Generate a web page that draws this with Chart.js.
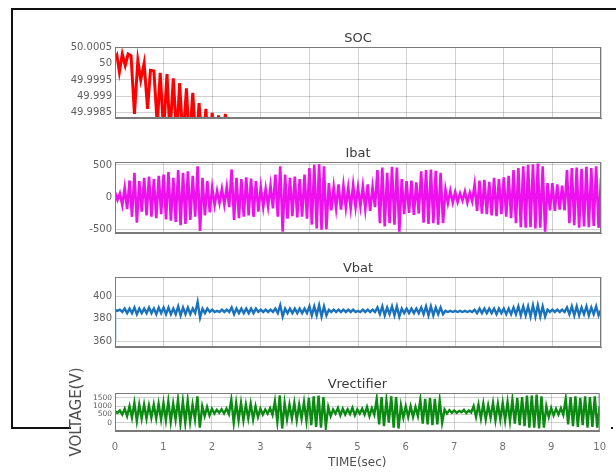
<!DOCTYPE html>
<html>
<head>
<meta charset="utf-8">
<script src="https://cdn.jsdelivr.net/npm/chart.js@4.4.0/dist/chart.umd.min.js"></script>
<style>
  body { margin: 0; background: #fff; width: 616px; height: 472px; overflow: hidden; position: relative; }
  canvas { position: absolute; left: 0; }
  .frame { position: absolute; background: #111; }
</style>
</head>
<body>
<div class="frame" style="left:11px;top:8px;width:605px;height:2px"></div>
<div class="frame" style="left:11px;top:8px;width:2px;height:421px"></div>
<div class="frame" style="left:11px;top:427px;width:60px;height:2px"></div>
<div class="frame" style="left:611px;top:427px;width:2px;height:2px"></div>

<canvas id="socChart" width="616" height="140" style="top:0"></canvas>
<canvas id="ibatChart" width="616" height="115" style="top:140px"></canvas>
<canvas id="vbatChart" width="616" height="101" style="top:255px"></canvas>
<canvas id="vrectChart" width="616" height="116" style="top:356px"></canvas>

<script>
// ---- data ----
const timeTicks = [0, 1, 2, 3, 4, 5, 6, 7, 8, 9, 10];
const socTicks = [49.9985, 49.999, 49.9995, 50, 50.0005];
const ibatTicks = [-500, 0, 500];
const vbatTicks = [360, 380, 400];
const vrectTicks = [0, 500, 1000, 1500];

// SOC only visible for the first ~2.3 s, then it drops below the axis
const socTime = [0, 0.04, 0.09, 0.15, 0.21, 0.27, 0.33, 0.4, 0.47, 0.53, 0.6, 0.67, 0.73,
  0.8, 0.87, 0.93, 1.0, 1.07, 1.13, 1.2, 1.27, 1.33, 1.4, 1.47, 1.53, 1.6, 1.67, 1.73,
  1.8, 1.87, 1.93, 2.0, 2.07, 2.13, 2.2, 2.27, 2.33];
const socValue = [50.00012, 50.00025, 49.99975, 50.0003, 49.99995, 50.0003, 50.00025, 49.99845,
  50.0001, 49.9995, 50.00002, 49.9986, 49.9998, 49.99978, 49.9981, 49.99972, 49.9979, 49.99968,
  49.9978, 49.99955, 49.9977, 49.9994, 49.9976, 49.99924, 49.9975, 49.9991, 49.9974, 49.99878,
  49.9973, 49.9986, 49.9972, 49.99848, 49.9971, 49.9984, 49.997, 49.99845, 49.9969];

// Ibat / Vbat / Vrectifier: one sample every 0.05 s, one row per second
const sampleStep = 0.05;
const ibatValue = [
  80, -40, 60, -120, 150, -180, 260, -300, 380, -390, 250, -220, 300, -280, 320, -300, 280, -320, 330, -260,
  350, -340, 390, -360, 300, -380, 420, -430, 380, -410, 400, -350, 330, -300, 480, -520, 300, -280, 250, -230,
  150, -120, 100, -90, 130, -110, 160, -150, 430, -350, 300, -320, 280, -300, 310, -280, 290, -300, 250, -220,
  160, -150, 130, -140, 180, -170, 350, -300, 480, -530, 350, -330, 300, -290, 320, -310, 280, -300, 350, -330,
  450, -420, 500, -480, 510, -500, 480, -490, 220, -200, 160, -170, 200, -190, 180, -160, 150, -170, 190, -150,
  150, -140, 170, -180, 200, -210, 160, -150, 420, -400, 460, -450, 380, -400, 470, -420, 460, -530, 280, -260,
  250, -240, 260, -270, 230, -250, 400, -390, 420, -410, 430, -400, 410, -420, 380, -400, 120, -90, 100, -80,
  80, -70, 60, -50, 90, -80, 70, -60, 200, -210, 260, -250, 270, -260, 240, -280, 300, -290, 280, -260,
  310, -300, 330, -320, 420, -400, 450, -460, 480, -470, 500, -460, 510, -480, 520, -470, 480, -530, 220, -200,
  220, -210, 200, -190, 180, -200, 420, -400, 450, -430, 460, -470, 440, -450, 470, -460, 450, -440, 480, -470,
  300];

const vbatStart = 360;
const vbatValue = [
  388, 387, 388, 386, 389, 385, 389, 385, 390, 384, 389, 385, 389, 385, 390, 385, 389, 384, 390, 385,
  390, 384, 390, 384, 389, 384, 391, 383, 390, 384, 390, 384, 389, 385, 395, 381, 389, 385, 389, 386,
  388, 386, 387, 386, 388, 386, 388, 386, 390, 384, 389, 385, 389, 385, 389, 385, 389, 385, 389, 386,
  388, 386, 388, 386, 388, 386, 389, 385, 392, 382, 389, 385, 389, 385, 389, 385, 389, 385, 389, 385,
  391, 383, 391, 383, 392, 382, 391, 383, 388, 386, 388, 386, 388, 386, 388, 386, 388, 386, 388, 386,
  387, 386, 388, 386, 388, 386, 388, 386, 390, 384, 391, 383, 390, 384, 391, 383, 391, 382, 389, 385,
  389, 385, 389, 385, 389, 385, 390, 384, 391, 383, 391, 383, 390, 384, 390, 384, 387, 386, 387, 386,
  387, 386, 387, 386, 387, 386, 387, 386, 388, 385, 389, 385, 389, 385, 389, 385, 389, 384, 389, 385,
  389, 384, 389, 384, 390, 384, 391, 383, 391, 383, 391, 382, 392, 382, 392, 382, 391, 382, 388, 386,
  388, 386, 388, 386, 388, 386, 390, 384, 391, 383, 391, 383, 390, 384, 391, 383, 390, 384, 391, 383,
  388];

const vrectValue = [
  700, 600, 750, 500, 850, 400, 1000, 300, 1200, 100, 1100, 250, 1100, 250, 1050, 300, 1100, 250, 1150, 200,
  1200, 150, 1300, 50, 1150, 200, 1400, -50, 1300, 0, 1350, 50, 1100, 200, 1600, -300, 1000, 400, 950, 450,
  850, 550, 780, 600, 820, 560, 860, 520, 1400, 0, 1200, 150, 1200, 150, 1100, 250, 1150, 200, 1000, 350,
  850, 500, 800, 550, 880, 480, 1300, 50, 1650, -350, 1200, 200, 1100, 250, 1200, 150, 1100, 250, 1250, 100,
  1500, -150, 1600, -250, 1650, -300, 1550, -250, 950, 400, 800, 550, 900, 450, 850, 500, 820, 530, 900, 450,
  800, 550, 850, 500, 950, 400, 880, 480, 1450, -100, 1550, -200, 1350, 0, 1600, -300, 1550, -350, 1050, 300,
  1000, 350, 1000, 350, 950, 400, 1400, -50, 1450, -100, 1500, -150, 1450, -100, 1350, 0, 800, 550, 760, 600,
  750, 600, 720, 640, 780, 580, 740, 620, 1000, 350, 1100, 250, 1150, 200, 1050, 300, 1200, 150, 1150, 200,
  1200, 150, 1250, 100, 1400, -50, 1500, -150, 1550, -200, 1650, -300, 1650, -300, 1700, -350, 1600, -300, 1000, 350,
  900, 450, 850, 500, 880, 480, 1450, -100, 1550, -200, 1600, -250, 1500, -150, 1600, -300, 1550, -250, 1600, -300,
  1000];

// ---- helpers ----
const boxColor = '#7a7a7a';
const gridColor = 'rgba(0,0,0,0.18)';
const tickFont = { family: '"DejaVu Sans", sans-serif', size: 10 };

const sampled = values => values.map((v, i) => ({ x: i * sampleStep, y: v }));
const paired = (times, values) => values.map((v, i) => ({ x: times[i], y: v }));
const fixTicks = list => scale => { scale.ticks = list.map(v => ({ value: v })); };

// panel title + full box around the axes (like MATLAB "box on")
const panelDecor = {
  id: 'panelDecor',
  afterDraw(chart, args, opts) {
    const { ctx, chartArea: a } = chart;
    ctx.save();
    ctx.strokeStyle = boxColor;
    ctx.lineWidth = 1;
    ctx.strokeRect(a.left + 0.5, a.top + 0.5, a.right - a.left - 1, a.bottom - a.top - 1);
    ctx.font = '13px "DejaVu Sans", sans-serif';
    ctx.fillStyle = '#3a3a3a';
    ctx.textAlign = 'center';
    ctx.textBaseline = 'alphabetic';
    ctx.fillText(opts.text, (a.left + a.right) / 2, a.top - 5);
    ctx.restore();
  }
};

function makePanel(id, cfg) {
  const bottomAxis = !!cfg.showTime;
  new Chart(document.getElementById(id), {
    type: 'line',
    data: {
      datasets: [{
        data: cfg.points,
        borderColor: cfg.color,
        borderWidth: cfg.width,
        pointRadius: 0,
        tension: 0,
        fill: false
      }]
    },
    options: {
      responsive: false,
      animation: false,
      layout: { padding: { left: 60, right: 15, top: cfg.padTop, bottom: cfg.padBottom } },
      plugins: {
        legend: { display: false },
        tooltip: { enabled: false },
        panelDecor: { text: cfg.title }
      },
      scales: {
        x: {
          type: 'linear',
          min: 0,
          max: 10,
          afterBuildTicks: fixTicks(timeTicks),
          afterFit: s => { s.height = bottomAxis ? 41 : 0; },
          grid: { color: gridColor, drawTicks: false },
          border: { color: boxColor },
          ticks: { display: bottomAxis, color: '#707070', font: tickFont, padding: 10, maxRotation: 0 },
          title: {
            display: bottomAxis,
            text: 'TIME(sec)',
            color: '#505050',
            font: { family: '"DejaVu Sans", sans-serif', size: 12 },
            padding: { top: 0, bottom: 2 }
          }
        },
        y: {
          min: cfg.yMin,
          max: cfg.yMax,
          afterBuildTicks: fixTicks(cfg.ticks),
          afterFit: s => { s.width = 55; },
          grid: { color: gridColor, drawTicks: false },
          border: { color: boxColor },
          ticks: {
            color: '#606060',
            font: cfg.yFont || tickFont,
            padding: 3,
            autoSkip: false,
            callback: v => String(+v.toFixed(4))
          },
          title: {
            display: !!cfg.yTitle,
            text: cfg.yTitle || '',
            color: '#505050',
            font: { family: '"DejaVu Sans", sans-serif', size: 15 },
            padding: { top: 8, bottom: 0 }
          }
        }
      }
    },
    plugins: [panelDecor]
  });
}

makePanel('socChart', {
  title: 'SOC', points: paired(socTime, socValue), color: '#ff0000', width: 3,
  yMin: 49.99832, yMax: 50.00052, ticks: socTicks, padTop: 47, padBottom: 22
});
makePanel('ibatChart', {
  title: 'Ibat', points: sampled(ibatValue), color: '#ee11ee', width: 2.6,
  yMin: -550, yMax: 545, ticks: ibatTicks, padTop: 22, padBottom: 22
});
makePanel('vbatChart', {
  title: 'Vbat', points: [{ x: 0, y: vbatStart }].concat(sampled(vbatValue)), color: '#1a72bd', width: 2.4,
  yMin: 355, yMax: 417, ticks: vbatTicks, padTop: 22, padBottom: 6
});
makePanel('vrectChart', {
  title: 'Vrectifier', points: sampled(vrectValue), color: '#0b8a12', width: 2.4,
  yMin: -500, yMax: 1800, ticks: vrectTicks, padTop: 37, padBottom: 0,
  showTime: true, yTitle: 'VOLTAGE(V)',
  yFont: { family: '"DejaVu Sans", sans-serif', size: 7.5 }
});
</script>
</body>
</html>
